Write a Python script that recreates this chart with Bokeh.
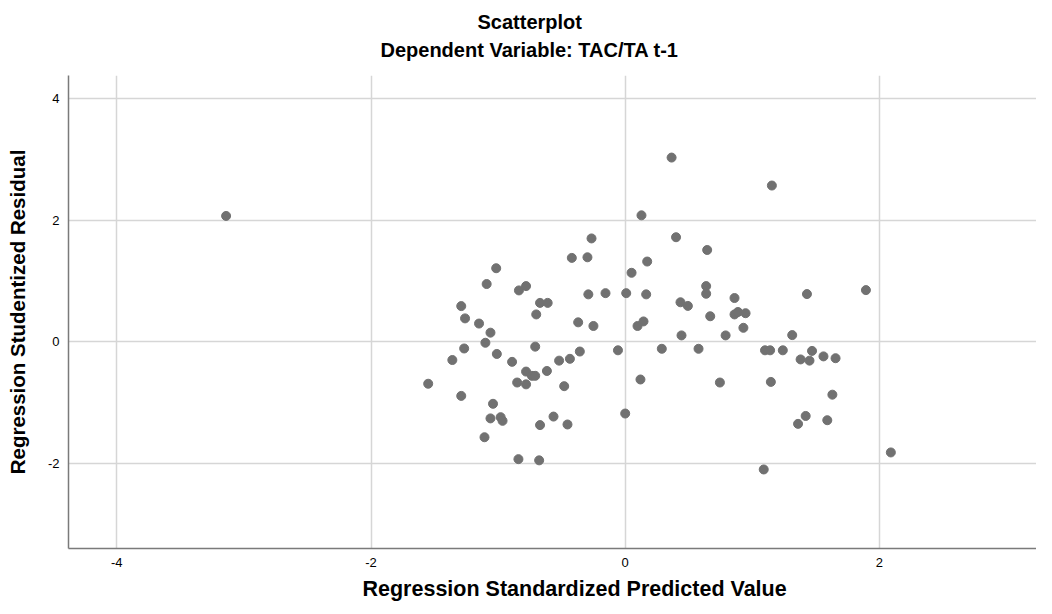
from bokeh.plotting import figure
from bokeh.models import FixedTicker, Title, Range1d
from bokeh.embed import file_html
from bokeh.resources import INLINE

# Regression Standardized Predicted Value
pred = [-3.14, 0.365, 1.154, 0.128, -0.265, 0.40, 0.645, -0.42, -0.297, 0.173,
        -1.015, 0.05, -1.09, -0.836, -0.78, -0.29, -0.155, 0.008, 0.165, 0.637,
        0.637, 0.86, 1.43, 1.894, -1.29, -0.67, -0.61, 0.435, 0.493, -0.70,
        -1.26, 0.669, 0.86, 0.887, 0.947, -1.15, -0.37, 0.144, 0.097, -0.25,
        -1.06, 0.93, 0.443, 0.79, 1.314, -1.10, -0.708, -1.267, -0.057, 0.288,
        0.577, 1.10, 1.14, 1.24, 1.47, -0.357, -1.01, 1.56, 1.655, 1.38,
        1.45, -1.36, -0.89, -0.435, -0.52, -0.616, -0.78, -0.734, -0.708, 0.12,
        0.745, 1.146, -0.85, -0.78, -1.55, -0.48, 1.63, -1.29, -1.04, 0.0,
        -1.06, -0.98, -0.965, -0.564, 1.42, 1.59, -0.67, -0.454, 1.36, -1.107,
        -0.84, -0.677, 1.09, 2.09]
# Regression Studentized Residual
resid = [2.07, 3.03, 2.57, 2.08, 1.70, 1.72, 1.51, 1.38, 1.39, 1.32,
         1.21, 1.135, 0.95, 0.845, 0.916, 0.78, 0.80, 0.80, 0.78, 0.916,
         0.79, 0.72, 0.785, 0.85, 0.587, 0.64, 0.64, 0.65, 0.59, 0.45,
         0.385, 0.42, 0.45, 0.49, 0.47, 0.30, 0.32, 0.335, 0.26, 0.26,
         0.15, 0.23, 0.105, 0.105, 0.11, -0.016, -0.08, -0.11, -0.14, -0.115,
         -0.115, -0.14, -0.14, -0.14, -0.15, -0.16, -0.20, -0.24, -0.27, -0.29,
         -0.31, -0.30, -0.33, -0.28, -0.31, -0.48, -0.49, -0.56, -0.56, -0.62,
         -0.67, -0.66, -0.67, -0.70, -0.69, -0.73, -0.87, -0.89, -1.02, -1.18,
         -1.26, -1.24, -1.30, -1.23, -1.22, -1.29, -1.37, -1.36, -1.35, -1.57,
         -1.93, -1.95, -2.10, -1.82]

x_ticks = [-4, -2, 0, 2]
y_ticks = [-2, 0, 2, 4]
x_tick_labels = ["-4", "-2", "0", "2"]
y_tick_labels = ["-2", "0", "2", "4"]

title_text = "Scatterplot"
subtitle_text = "Dependent Variable: TAC/TA t-1"
x_title = "Regression Standardized Predicted Value"
y_title = "Regression Studentized Residual"

FONT = "Liberation Sans"

p = figure(width=1036, height=606, output_backend="svg", toolbar_location=None,
           x_range=Range1d(-4.38, 3.236), y_range=Range1d(-3.40, 4.38),
           min_border_left=68, min_border_right=0, min_border_top=75,
           min_border_bottom=58)

# spacer between the plot frame and the subtitle
p.add_layout(Title(text=" ", text_font_size="1px", standoff=10), "above")
p.add_layout(Title(text=subtitle_text, align="left", offset=312,
                   text_font=FONT, text_font_size="20px", text_font_style="bold",
                   text_color="black", standoff=4), "above")
p.add_layout(Title(text=title_text, align="left", offset=409,
                   text_font=FONT, text_font_size="20px", text_font_style="bold",
                   text_color="black", standoff=4), "above")

p.scatter(pred, resid, size=9, fill_color="#717171", line_color="#717171")

p.outline_line_color = None
p.background_fill_color = "white"
p.border_fill_color = "white"

p.xaxis.ticker = FixedTicker(ticks=x_ticks)
p.yaxis.ticker = FixedTicker(ticks=y_ticks)
p.xaxis.major_label_overrides = dict(zip(x_ticks, x_tick_labels))
p.yaxis.major_label_overrides = dict(zip(y_ticks, y_tick_labels))
for ax in (p.xaxis[0], p.yaxis[0]):
    ax.axis_line_color = "#7a7a7a"
    ax.axis_line_width = 1.5
    ax.major_tick_line_color = None
    ax.minor_tick_line_color = None
    ax.major_tick_out = 0
    ax.major_tick_in = 0
    ax.major_label_text_font = FONT
    ax.major_label_text_font_size = "13px"
    ax.major_label_text_color = "black"
    ax.axis_label_text_font = FONT
    ax.axis_label_text_font_style = "bold"
    ax.axis_label_text_color = "black"
    ax.major_label_standoff = 9

p.yaxis.axis_label = y_title
p.yaxis.axis_label_text_font_size = "20.5px"
p.yaxis.axis_label_standoff = 16
p.yaxis.major_label_orientation = "horizontal"

p.add_layout(Title(text=x_title, align="left", offset=294,
                   text_font=FONT, text_font_size="21.5px", text_font_style="bold",
                   text_color="black", standoff=10), "below")

p.xgrid.grid_line_color = "#d6d6d6"
p.ygrid.grid_line_color = "#d6d6d6"
p.xgrid.grid_line_width = 1.5
p.ygrid.grid_line_width = 1.5

open("out.html", "w").write(file_html(p, INLINE))
